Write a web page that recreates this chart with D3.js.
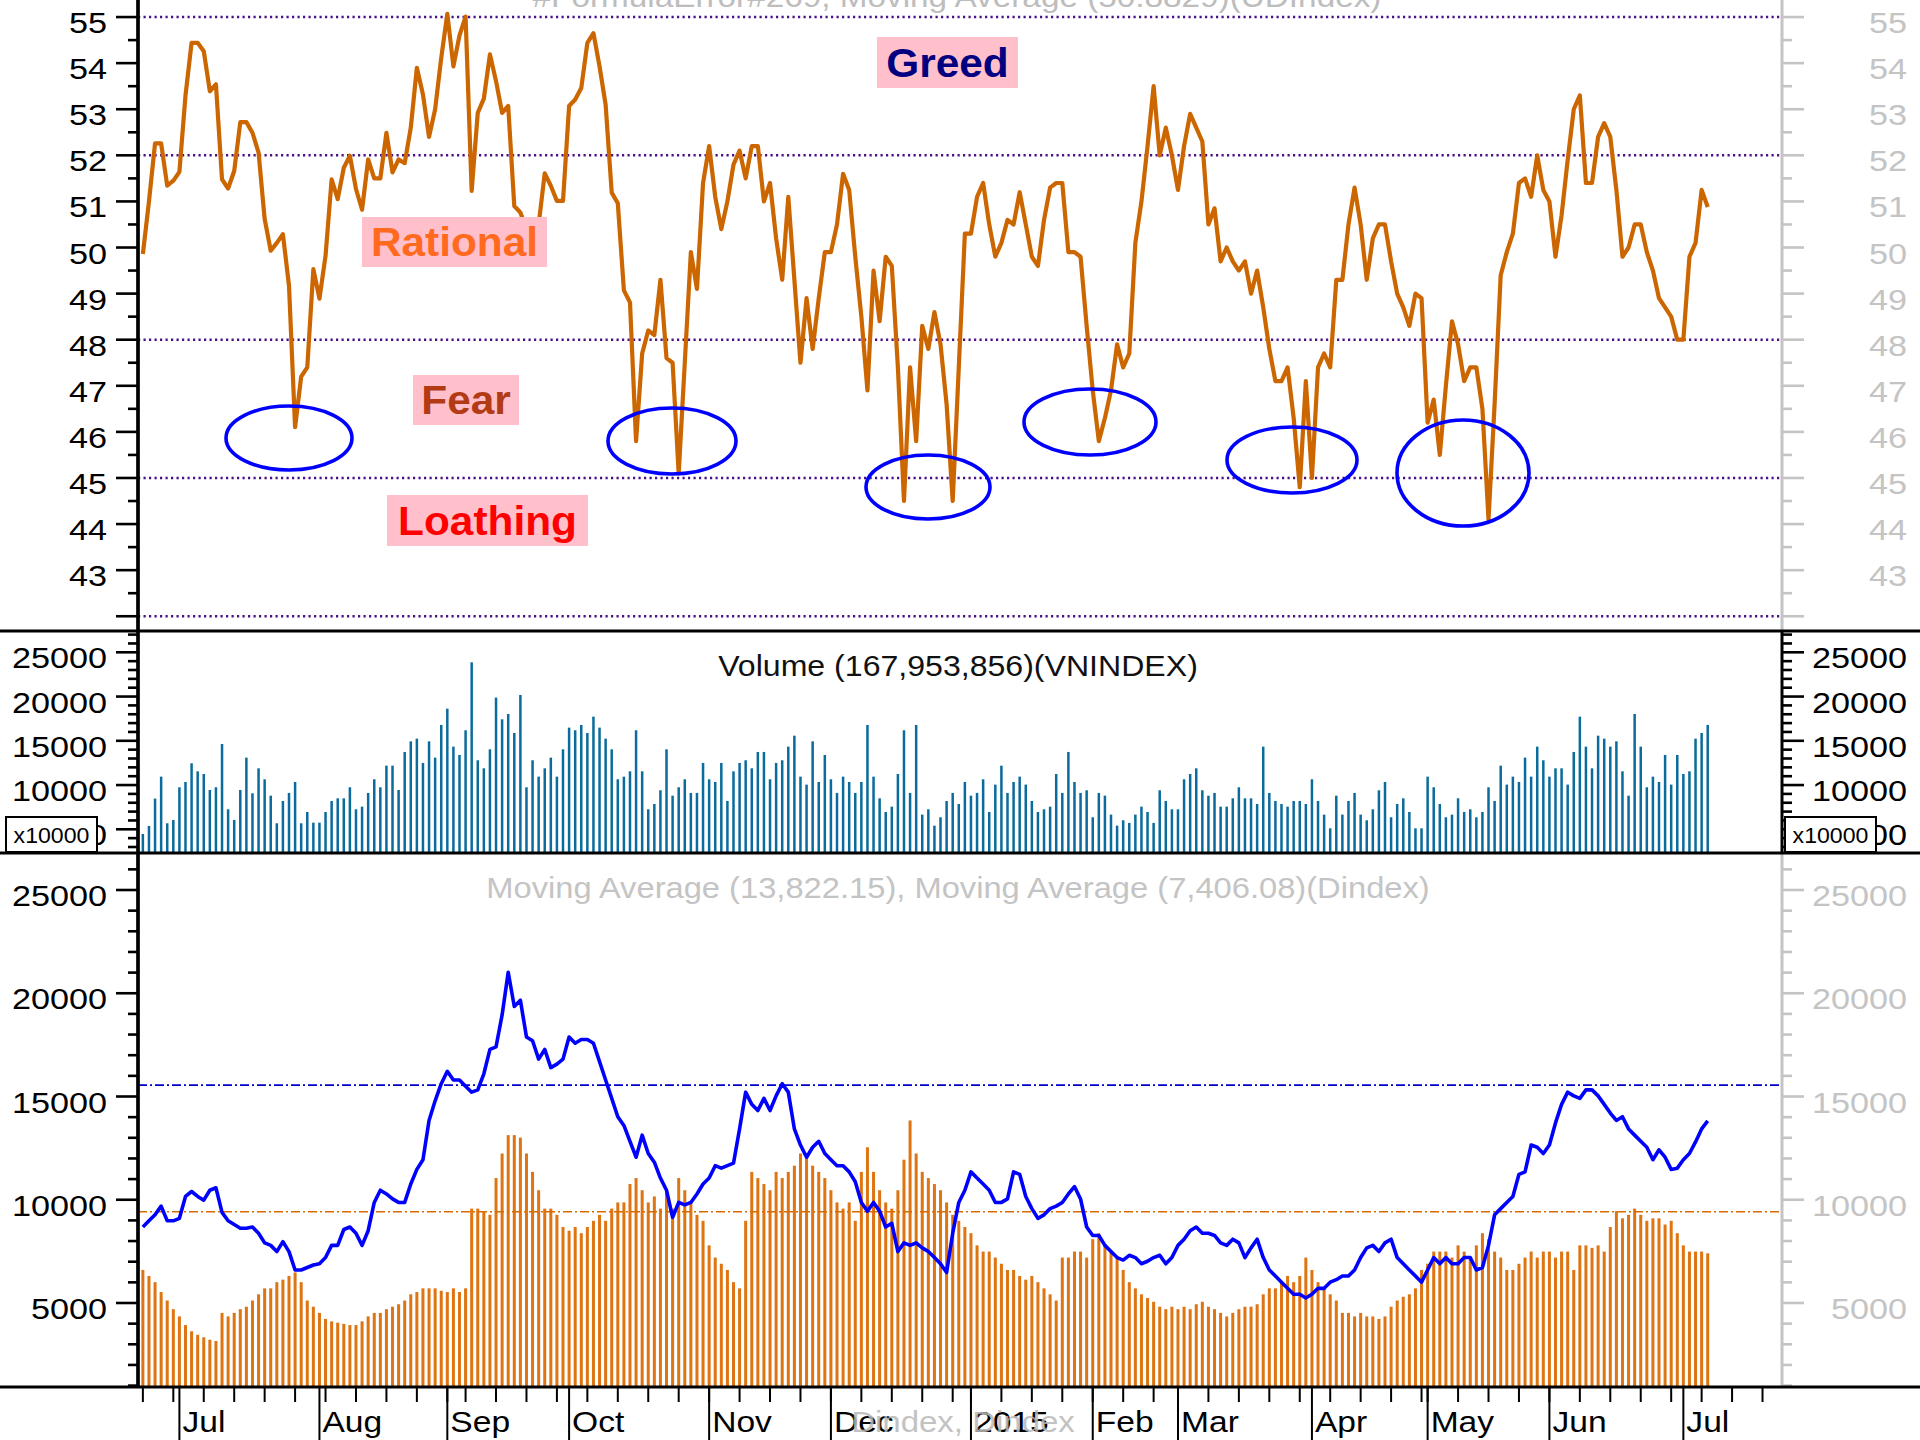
<!DOCTYPE html>
<html><head><meta charset="utf-8">
<script src="https://cdn.jsdelivr.net/npm/d3@7"></script>
<style>body{margin:0;background:#fff}svg{display:block}text{font-family:"Liberation Sans",Arial,sans-serif}</style>
</head><body><svg id="c" width="1920" height="1440"></svg>
<script>
// ---------------- DATA ----------------
const sentiment = [49.86,51.0,52.26,52.26,51.34,51.45,51.64,53.3,54.44,54.44,54.26,53.39,53.54,51.48,51.28,51.66,52.72,52.72,52.49,52.06,50.62,49.93,50.1,50.29,49.17,46.1,47.2,47.4,
49.53,48.89,49.82,51.48,51.05,51.73,51.99,51.27,50.82,51.91,51.5,51.5,52.49,51.63,51.91,51.83,52.6,53.9,53.32,52.4,53.0,54.11,55.07,53.93,54.6,55.01,51.23,52.92,53.23,54.19,53.61,52.92,53.07,50.9,50.76,50.4,50.2,50.5,51.61,51.34,51.01,51.01,53.07,53.21,53.46,54.44,54.65,53.93,53.1,51.19,50.96,49.07,48.81,
45.8,47.7,48.2,48.1,49.3,47.6,47.5,45.1,47.5,49.9,49.1,51.4,52.2,51.1,50.4,51.0,51.8,52.1,51.5,52.2,52.2,51.0,51.4,50.2,49.3,51.1,49.3,47.5,48.9,47.8,48.9,49.9,49.9,50.5,51.6,51.25,49.8,48.5,46.9,49.5,48.4,49.8,49.6,47.4,44.5,47.4,45.8,48.3,47.8,48.6,47.9,46.6,44.5,47.4,50.3,50.3,51.1,51.4,50.5,49.8,50.1,50.6,50.5,51.2,50.5,49.8,49.6,50.6,51.3,51.4,51.4,49.9,49.9,49.8,48.3,46.9,45.8,46.3,46.9,47.9,47.4,47.7,50.1,51.0,52.2,53.5,52.0,52.6,52.0,51.25,52.2,52.9,52.6,52.3,50.5,50.85,49.7,50.0,49.7,49.5,49.7,49.0,49.5,48.7,47.8,47.1,47.1,47.4,46.3,44.8,47.1,45.0,47.4,47.7,47.4,49.3,49.3,50.5,51.3,50.5,49.3,50.2,50.5,50.5,49.7,49.0,48.7,48.3,49.0,48.9,46.2,46.7,45.5,47.0,48.4,47.9,47.1,47.4,47.4,46.5,44.1,46.6,49.4,49.9,50.3,51.4,51.5,51.1,52.0,51.25,51.0,49.8,50.7,51.9,53.0,53.3,51.4,51.4,52.4,52.7,52.4,51.25,49.8,50.0,50.5,50.5,49.9,49.5,48.9,48.7,48.5,48.0,48.0,49.8,50.1,51.25,50.88];

const volume = [4470,5380,8470,10950,5680,6060,9750,10350,12460,11550,11250,9440,9750,14640,7260,6060,9440,13100,9070,11890,10650,8800,5680,8200,9110,10350,5680,6960,5750,5750,6960,8200,8500,8500,9750,7260,7560,9110,10650,9750,12190,12190,9440,13740,14940,15240,12500,14940,13100,16790,18630,14340,13400,16190,23870,12800,11890,14040,19880,17430,18030,15880,20180,9750,12800,10950,11890,13100,
10950,14040,16490,16190,16790,15880,17730,16490,15240,14040,10650,10950,11550,16190,11550,7260,7860,9410,14040,8800,9750,10650,9110,9110,12500,10650,10350,12500,8200,11550,12500,12800,11890,13740,13740,10650,12500,12800,14340,15580,10950,10050,14940,10350,13400,10650,9110,10950,10350,9110,10350,16790,10950,8500,6960,7560,11250,16190,9110,16790,6660,7260,5410,6360,8200,9110,7860,10350,
8800,9110,10650,6960,10050,12190,9110,10350,10950,10050,8200,6960,7260,7560,11250,9110,13740,10350,9110,9410,6360,9110,8800,6660,5410,6020,5720,6660,7560,6960,5720,9410,8200,7260,7260,10650,11250,11890,9410,8800,9110,7560,7560,8500,9750,8500,8500,7860,14340,9110,8200,7860,7560,8200,8200,7860,10650,8200,6660,5110,8800,6660,8200,9110,6660,6020,7260,
9410,10350,6360,7860,8500,6960,5110,5110,10950,9750,7860,6360,6660,8500,6960,7260,6360,6960,9750,8200,12190,10050,10950,10350,13100,10950,14340,12800,10950,11890,11890,10050,13740,17730,14340,11890,15580,15240,14340,14940,11550,8800,18030,14340,9750,10950,10350,13400,10050,13400,11250,11550,15240,15880,16795];

const maFast = [8680,8980,9270,9690,8980,8980,9100,10160,10400,10160,9980,10460,10580,9390,8980,8800,8620,8620,8680,8380,7910,7790,7490,7970,7490,6600,6600,6720,6840,6900,7200,7790,7790,8560,8680,8380,7790,8500,9870,10460,10280,10040,9870,9870,10760,11470,11940,13840,14790,15620,16220,15800,15800,15500,15210,15320,16100,17280,17400,18950,21020,19360,19660,17880,17700,16810,17280,16400,16570,16810,17880,17580,17760,17760,17580,16690,15800,14910,14020,13600,12830,12060,13130,12240,11820,11050,10460,9150,9870,9750,9870,10280,10760,11050,11650,11530,11650,11770,13430,15210,14620,14320,14910,14320,15030,15620,15210,13430,12650,12060,12540,12830,12240,11940,11650,11650,11350,10870,9870,9450,9870,9450,8680,8860,7490,7910,7790,7910,7670,7490,7200,6900,6480,8380,9870,10460,11350,11050,10760,10460,9870,9870,10040,11350,11230,10160,9570,9100,9270,9570,9690,9870,10280,10640,10040,8680,8270,8270,7790,7490,7200,7080,7310,7200,6900,7020,7200,7310,6900,7200,7790,8090,8500,8680,8380,8380,8270,7910,7790,8090,7910,7200,7670,8090,7200,6600,6310,6010,5710,5420,5420,5240,5420,5710,5710,6010,6130,6310,6310,6600,7200,7670,7790,7490,7910,8090,7200,6900,6600,6310,6010,6600,7200,6900,7200,6900,6900,7200,7200,6600,6720,7790,9270,9570,9870,10160,11230,11350,12650,12540,12240,12650,13720,14620,15210,15030,14910,15320,15320,15030,14620,14200,13840,14020,13430,13130,12830,12540,11940,12420,12060,11470,11530,11940,12240,12800,13430,13822];

const maSlow = [6600,6310,6010,5530,5120,4700,4350,3930,3630,3460,3340,3220,3160,4520,4350,4520,4700,4820,5120,5420,5710,5710,6010,6130,6310,6480,6010,5120,4820,4520,4230,4110,4050,3990,3930,3930,4110,4350,4520,4520,4700,4820,4940,5120,5420,5530,5710,5710,5710,5590,5530,5710,5530,5710,
9570,9570,9450,9270,11050,12240,13130,13130,13010,12240,11350,10460,9570,9570,9270,8680,8500,8680,8380,8680,8980,9270,8980,9570,9870,9870,10760,11050,10460,9870,10160,9570,10460,9570,11050,10460,9870,9270,8980,7790,7200,6900,6600,6010,5710,8980,11350,11050,10760,10460,11350,11050,11350,11650,12240,12240,11650,11350,11050,10460,9870,9570,9870,8980,11350,12540,11350,10460,9870,9570,10460,11940,13840,12240,11350,11050,10760,10460,9870,9270,8980,8680,8380,7790,7490,7490,7200,6900,6600,6600,6310,6130,6310,6010,5710,5420,5120,7200,7200,7490,7490,7200,8090,8380,7790,7490,7200,6600,6010,5710,5420,5240,5060,4820,4700,4820,4700,4820,4700,4940,5060,4820,4700,4520,4350,4520,4700,4820,4820,4940,5420,5710,5710,6010,6310,6010,6310,7200,6600,6010,5710,5420,5120,4520,4520,4350,4520,4350,4350,4230,4350,4820,5120,5300,5420,5710,6600,6900,7490,7490,7490,7200,7790,7490,7200,7790,8380,8090,7490,7200,6600,6600,6900,7200,7490,7200,7490,7490,7200,7490,7490,6600,7790,7790,7670,7790,7490,8680,9450,9100,9270,9570,9270,8980,9100,9100,8800,8980,8380,7790,7490,7490,7490,7406];

const monthLabels = ["Jul","Aug","Sep","Oct","Nov","Dec","2015","Feb","Mar","Apr","May","Jun","Jul"];
const holidays = ["2014-09-01","2014-09-02","2015-01-01","2015-01-02","2015-02-16","2015-02-17","2015-02-18","2015-02-19","2015-02-20","2015-02-23","2015-04-28","2015-04-29","2015-04-30","2015-05-01"];
const firstDay = "2014-06-23", lastAxisDay = "2015-07-24";
const sentimentTicks = [43,44,45,46,47,48,49,50,51,52,53,54,55];
const sentimentLevels = [55,52,48,45,42];
const volTicks = [5000,10000,15000,20000,25000];
const dTicks = [5000,10000,15000,20000,25000];
const fastRef = 15550, slowRef = 9420;

// ---------------- LAYOUT ----------------
const svg = d3.select("#c");
const AXL = 138, AXR = 1782;
const TOP0 = 0, TOP1 = 631, MID1 = 853, BOT1 = 1387;
const x = d3.scaleLinear().domain([-0.8, 269.2]).range([AXL, AXR]);
const yTop = d3.scaleLinear().domain([41.68, 55.37]).range([TOP1, TOP0]);
const yVol = d3.scaleLinear().domain([2322, 27407]).range([MID1, TOP1]);
const yBot = d3.scaleLinear().domain([932, 26792]).range([BOT1, MID1]);
const SX = 1.1;
const FONT = 30;

function txt(g, px, py, s, o = {}) {
  return g.append("text")
    .attr("transform", `translate(${px},${py}) scale(${o.sx || SX},1)`)
    .attr("text-anchor", o.anchor || "start")
    .attr("font-size", o.size || FONT)
    .attr("font-weight", o.weight || "normal")
    .attr("fill", o.fill || "#000")
    .attr("opacity", o.opacity == null ? 1 : o.opacity)
    .text(s);
}

// trading calendar
const hol = new Set(holidays);
const fmt = d3.timeFormat("%Y-%m-%d");
const days = [];
for (let d = d3.timeParse("%Y-%m-%d")(firstDay); d <= d3.timeParse("%Y-%m-%d")(lastAxisDay); d = d3.timeDay.offset(d, 1)) {
  const w = d.getDay();
  if (w === 0 || w === 6 || hol.has(fmt(d))) continue;
  days.push(d);
}
const monthStarts = [], weekStarts = [];
days.forEach((d, i) => {
  if (i > 0 && d.getMonth() !== days[i - 1].getMonth()) monthStarts.push(i);
  if (i === 0 || +d3.timeMonday.floor(d) !== +d3.timeMonday.floor(days[i - 1])) weekStarts.push(i);
});

// ---------------- TOP PANEL ----------------
const gTop = svg.append("g");
gTop.selectAll("line.lvl").data(sentimentLevels).join("line")
  .attr("x1", AXL).attr("x2", AXR).attr("y1", d => yTop(d)).attr("y2", d => yTop(d))
  .attr("stroke", "#4b0f86").attr("stroke-width", 2.5).attr("stroke-dasharray", "2.2,3.3");
txt(gTop, 957, 7, "#FormulaError#269, Moving Average (50.8829)(UDIndex)", {anchor: "middle", fill: "#bdbdbd", sx: 1.11});
gTop.append("path").datum(sentiment)
  .attr("d", d3.line().x((d, i) => x(i)).y(d => yTop(d)))
  .attr("fill", "none").attr("stroke", "#cc6600").attr("stroke-width", 4.2).attr("stroke-linejoin", "round");
const notes = [
  {t: "Greed", x: 877, y: 37, w: 141, h: 51, c: "#000080"},
  {t: "Rational", x: 362, y: 217, w: 185, h: 50, c: "#ff6a1f"},
  {t: "Fear", x: 413, y: 375, w: 106, h: 50, c: "#b23a14"},
  {t: "Loathing", x: 387, y: 495, w: 201, h: 51, c: "#ff0000"}
];
notes.forEach(n => {
  gTop.append("rect").attr("x", n.x).attr("y", n.y).attr("width", n.w).attr("height", n.h).attr("fill", "#ffc0cb");
  txt(gTop, n.x + n.w / 2, n.y + n.h / 2 + 14, n.t, {anchor: "middle", size: 40, weight: "bold", fill: n.c, sx: 1.06});
});
const rings = [[289, 438, 63, 32], [672, 441, 64, 33], [928, 487, 62, 32], [1090, 422, 66, 33], [1292, 460, 65, 33], [1463, 473, 66, 53]];
gTop.selectAll("ellipse").data(rings).join("ellipse")
  .attr("cx", d => d[0]).attr("cy", d => d[1]).attr("rx", d => d[2]).attr("ry", d => d[3])
  .attr("fill", "none").attr("stroke", "#0000ff").attr("stroke-width", 3.6);

// ---------------- MIDDLE PANEL ----------------
const gMid = svg.append("g");
gMid.selectAll("rect.v").data(volume).join("rect")
  .attr("x", (d, i) => x(i) - 1.25).attr("width", 2.5)
  .attr("y", d => yVol(d)).attr("height", d => MID1 - yVol(d))
  .attr("fill", "#0b6b9c");
txt(gMid, 958, 676, "Volume (167,953,856)(VNINDEX)", {anchor: "middle", fill: "#111", sx: 1.07});

// ---------------- BOTTOM PANEL ----------------
const gBot = svg.append("g");
gBot.selectAll("rect.o").data(maSlow).join("rect")
  .attr("x", (d, i) => x(i) - 1.5).attr("width", 3)
  .attr("y", d => yBot(d)).attr("height", d => BOT1 - yBot(d))
  .attr("fill", "#de7412");
[[fastRef, "#0000cc"], [slowRef, "#d96a00"]].forEach(([v, c]) => {
  gBot.append("line").attr("x1", AXL).attr("x2", AXR).attr("y1", yBot(v)).attr("y2", yBot(v))
    .attr("stroke", c).attr("stroke-width", 1.6).attr("stroke-dasharray", "9,3,2,3");
});
gBot.append("path").datum(maFast)
  .attr("d", d3.line().x((d, i) => x(i)).y(d => yBot(d)))
  .attr("fill", "none").attr("stroke", "#0000ff").attr("stroke-width", 3.6).attr("stroke-linejoin", "round");
txt(gBot, 958, 898, "Moving Average (13,822.15), Moving Average (7,406.08)(Dindex)", {anchor: "middle", fill: "#c4c4c4", sx: 1.09});

// ---------------- AXES ----------------
const gAx = svg.append("g");
function yAxis(scale, side, majors, minors, col, labCol, y0, y1, showLabel = v => true) {
  const x0 = side === "left" ? AXL : AXR, dir = side === "left" ? -1 : 1;
  gAx.append("line").attr("x1", x0).attr("x2", x0).attr("y1", y0).attr("y2", y1).attr("stroke", col).attr("stroke-width", 3);
  minors.forEach(v => gAx.append("line").attr("x1", x0).attr("x2", x0 + dir * 10)
    .attr("y1", scale(v)).attr("y2", scale(v)).attr("stroke", col).attr("stroke-width", 2.6));
  majors.forEach(v => {
    gAx.append("line").attr("x1", x0).attr("x2", x0 + dir * 22)
      .attr("y1", scale(v)).attr("y2", scale(v)).attr("stroke", col).attr("stroke-width", 2.6);
    if (showLabel(v)) txt(gAx, side === "left" ? 107 : 1907, scale(v) + 16, String(v), {anchor: "end", fill: labCol, sx: 1.14});
  });
}
const topMinors = d3.range(42.5, 55.4, 1);
yAxis(yTop, "left", [42, ...sentimentTicks], topMinors, "#000", "#000", 0, TOP1, v => v !== 42);
yAxis(yTop, "right", [42, ...sentimentTicks], topMinors, "#c4c4c4", "#c4c4c4", 0, TOP1, v => v !== 42);
const volMinors = d3.range(3000, 27001, 1000).filter(v => v % 5000 !== 0);
yAxis(yVol, "left", volTicks, volMinors, "#000", "#000", TOP1, MID1);
yAxis(yVol, "right", volTicks, volMinors, "#000", "#000", TOP1, MID1);
const dMinors = d3.range(1000, 26001, 1000).filter(v => v % 5000 !== 0 && v > 932);
yAxis(yBot, "left", dTicks, dMinors, "#000", "#000", MID1, BOT1);
yAxis(yBot, "right", dTicks, dMinors, "#c4c4c4", "#c4c4c4", MID1, BOT1);
gAx.append("line").attr("x1", AXL).attr("x2", AXL).attr("y1", 0).attr("y2", BOT1).attr("stroke", "#000").attr("stroke-width", 3.4);

[TOP1, MID1, BOT1].forEach(yy => gAx.append("line").attr("x1", 0).attr("x2", 1920).attr("y1", yy).attr("y2", yy)
  .attr("stroke", "#000").attr("stroke-width", 3));

weekStarts.filter(i => x(i) <= AXR).forEach(i => gAx.append("line").attr("x1", x(i)).attr("x2", x(i))
  .attr("y1", BOT1).attr("y2", BOT1 + 15).attr("stroke", "#000").attr("stroke-width", 2));
monthStarts.forEach((i, k) => {
  gAx.append("line").attr("x1", x(i)).attr("x2", x(i)).attr("y1", BOT1).attr("y2", 1440).attr("stroke", "#000").attr("stroke-width", 2);
  txt(gAx, x(i) + 3, 1432, monthLabels[k], {sx: 1.12});
});
txt(gAx, 963, 1432, "Dindex, Dindex", {anchor: "middle", fill: "#b8b8b8", opacity: 0.85, sx: 1.1});

[[6, 817], [1785, 817]].forEach(([bx, by]) => {
  gAx.append("rect").attr("x", bx).attr("y", by).attr("width", 91).attr("height", 35)
    .attr("fill", "#fff").attr("stroke", "#000").attr("stroke-width", 2);
  txt(gAx, bx + 45.5, by + 26, "x10000", {anchor: "middle", size: 22, sx: 1.05});
});
</script></body></html>
